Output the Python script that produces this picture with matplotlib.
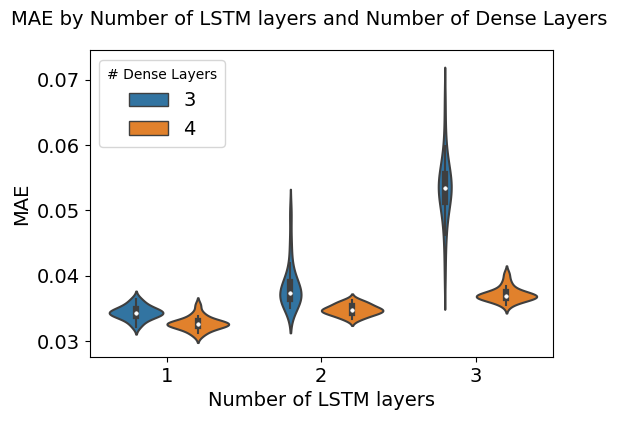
import matplotlib
matplotlib.use("Agg")
import matplotlib.pyplot as plt
import seaborn as sns
import pandas as pd

# MAE samples per (LSTM layers, Dense layers) group, estimated from the chart
mae_l1_d3 = [0.0322, 0.0328, 0.0332, 0.0335, 0.0337, 0.0339, 0.0340, 0.0341, 0.0342, 0.0343,
             0.0344, 0.0345, 0.0346, 0.0347, 0.0349, 0.0351, 0.0353, 0.0356, 0.0360, 0.0365]
mae_l1_d4 = [0.0309, 0.0313, 0.0317, 0.0319, 0.0322, 0.0323, 0.0324, 0.0325, 0.0325, 0.0326,
             0.0326, 0.0327, 0.0328, 0.0329, 0.0330, 0.0331, 0.0335, 0.0339, 0.0343, 0.0355]
mae_l2_d3 = [0.0350, 0.0354, 0.0358, 0.0360, 0.0362, 0.0364, 0.0366, 0.0368, 0.0370, 0.0372,
             0.0374, 0.0376, 0.0379, 0.0382, 0.0386, 0.0390, 0.0395, 0.0402, 0.0420, 0.0450, 0.0495]
mae_l2_d4 = [0.0333, 0.0336, 0.0339, 0.0341, 0.0342, 0.0344, 0.0345, 0.0346, 0.0347, 0.0348,
             0.0349, 0.0350, 0.0352, 0.0354, 0.0356, 0.0358, 0.0360, 0.0363]
mae_l3_d3 = [0.0400, 0.0440, 0.0462, 0.0478, 0.0490, 0.0498, 0.0504, 0.0510, 0.0515, 0.0519,
             0.0523, 0.0526, 0.0529, 0.0531, 0.0533, 0.0535, 0.0537, 0.0539, 0.0541, 0.0544,
             0.0547, 0.0550, 0.0554, 0.0558, 0.0563, 0.0568, 0.0575, 0.0582, 0.0598, 0.0625, 0.0668]
mae_l3_d4 = [0.0355, 0.0360, 0.0363, 0.0364, 0.0365, 0.0366, 0.0367, 0.0368, 0.0368, 0.0369,
             0.0370, 0.0370, 0.0371, 0.0372, 0.0374, 0.0376, 0.0380, 0.0385, 0.0392, 0.0403]

groups = [(1, 3, mae_l1_d3), (1, 4, mae_l1_d4), (2, 3, mae_l2_d3),
          (2, 4, mae_l2_d4), (3, 3, mae_l3_d3), (3, 4, mae_l3_d4)]

rows = []
for lstm, dense, vals in groups:
    for v in vals:
        rows.append({"lstm": lstm, "dense": dense, "mae": v})
df = pd.DataFrame(rows)

fig = plt.figure(figsize=(6.19, 4.21), dpi=100)
ax = fig.add_axes([0.145, 0.152, 0.748, 0.729])

sns.violinplot(data=df, x="lstm", y="mae", hue="dense", ax=ax, linewidth=1.5,
               palette=["#1f77b4", "#ff7f0e"], saturation=0.75, common_norm=True,
               inner_kws=dict(box_width=4.5, whis_width=1.5, marker="o"))

for ln in ax.lines:
    if ln.get_marker() == "o":
        ln.set_markerfacecolor("white")
        ln.set_markeredgecolor("white")
        ln.set_markersize(2.5)
        ln.set_markeredgewidth(0.5)

ax.set_xlabel("Number of LSTM layers", fontsize=14)
ax.set_ylabel("MAE", fontsize=14)
ax.tick_params(labelsize=14)
ax.set_yticks([0.03, 0.04, 0.05, 0.06, 0.07])
ax.set_ylim(0.02755, 0.07456)
fig.suptitle("MAE by Number of LSTM layers and Number of Dense Layers", fontsize=14, y=0.976)

handles, labels = ax.get_legend_handles_labels()
for h in handles:
    h.set_linewidth(1.0)
ax.legend(handles, labels, title="# Dense Layers", fontsize=14, title_fontsize=10, loc="upper left")

fig.savefig("out.png", dpi=100)
